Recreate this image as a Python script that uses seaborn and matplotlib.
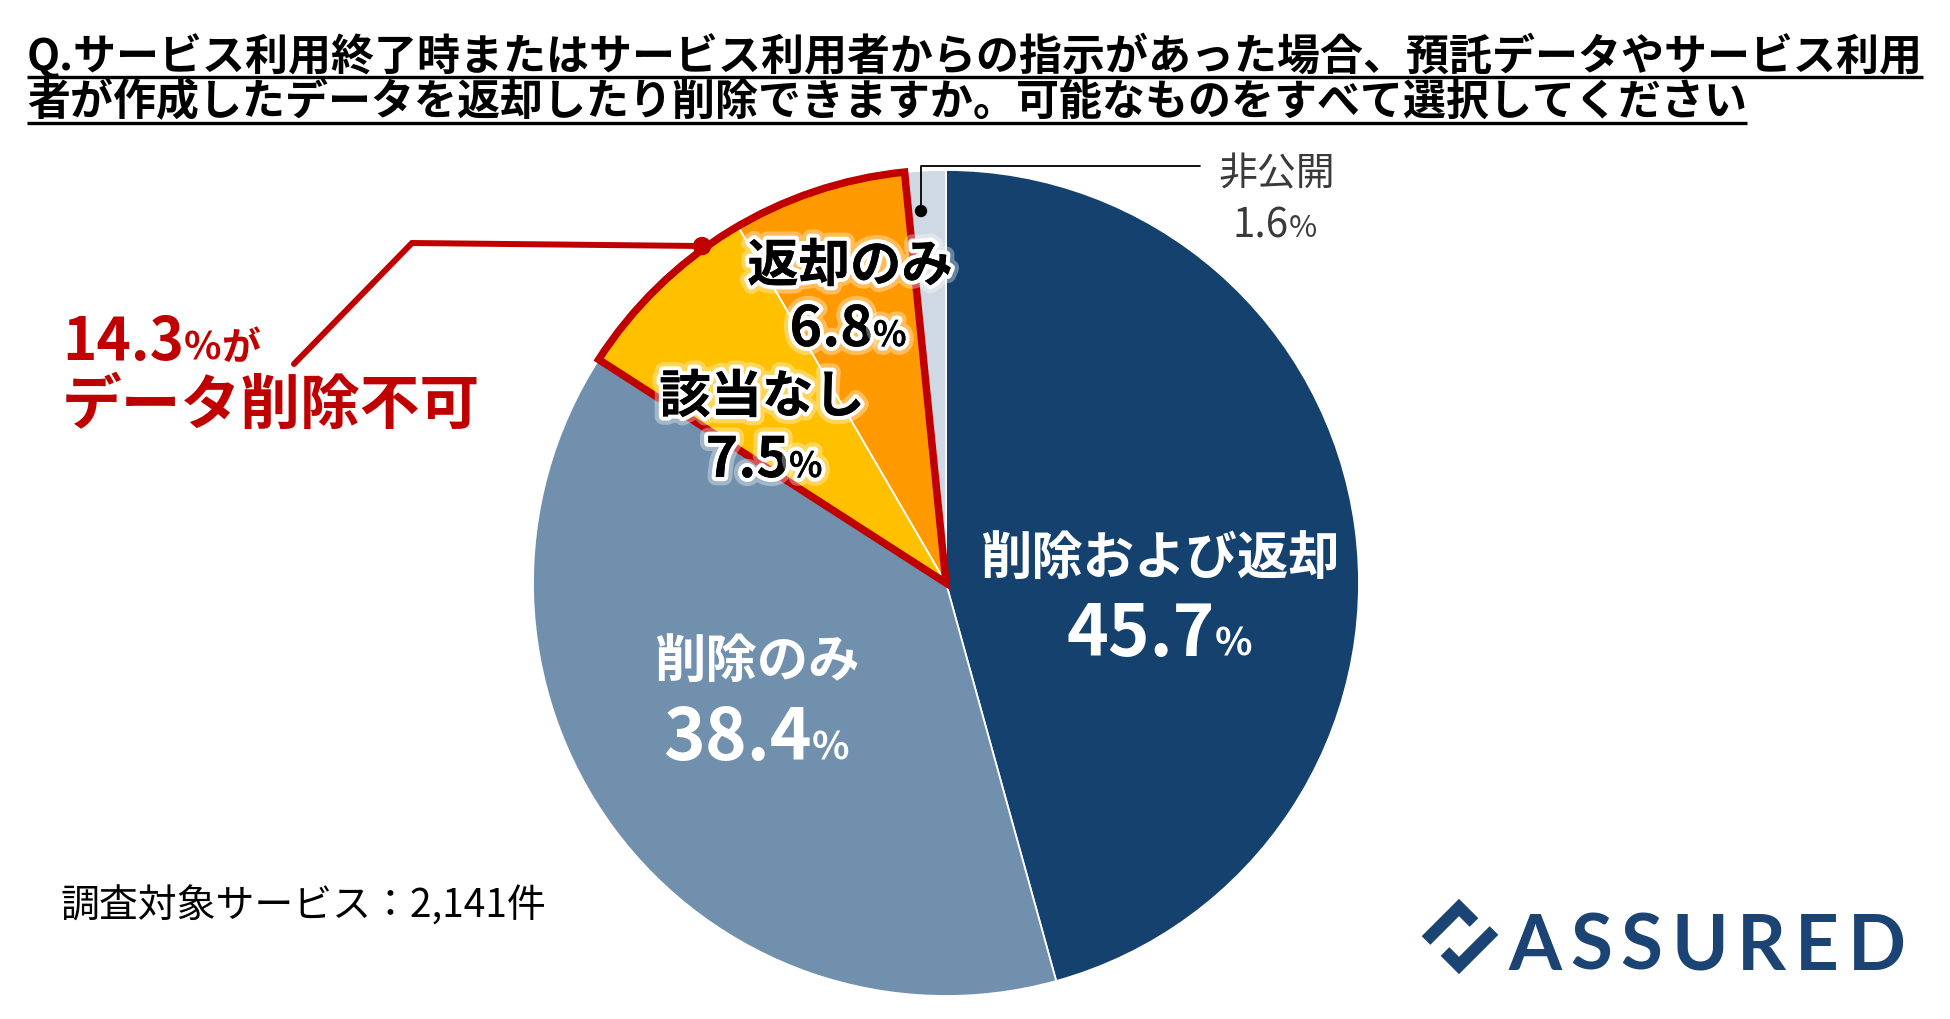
import matplotlib
matplotlib.use("Agg")
import matplotlib.pyplot as plt
import seaborn as sns
import numpy as np
from matplotlib.patches import Wedge, Circle
import matplotlib.patheffects as pe

# ---------------- data ----------------
categories = ["削除および返却", "削除のみ", "該当なし", "返却のみ", "非公開"]
values = [45.7, 38.4, 7.5, 6.8, 1.6]
colors = ["#15416f", "#7190ae", "#ffc000", "#ff9900", "#cfd9e3"]
highlight = ["該当なし", "返却のみ"]
highlight_total = 14.3
title_lines = [
    "Q.サービス利用終了時またはサービス利用者からの指示があった場合、預託データやサービス利用",
    "者が作成したデータを返却したり削除できますか。可能なものをすべて選択してください",
]
callout_line1 = ["%.1f" % highlight_total, "%", "が"]
callout_line2 = "データ削除不可"
footnote = "調査対象サービス：2,141件"
logo_text = "ASSURED"

# ---------------- setup ----------------
sns.set_theme(style="white")
plt.rcParams['font.family'] = ['Noto Sans CJK JP', 'DejaVu Sans']

W, H = 1950, 1020
fig = plt.figure(figsize=(19.5, 10.2), dpi=100)
fig.patch.set_facecolor("white")
ax = fig.add_axes([0, 0, 1, 1])
renderer = fig.canvas.get_renderer()

CX, CY, R = 946, H - 584, 413
wedges, _ = ax.pie(values, colors=colors, startangle=90, counterclock=False,
                   center=(CX, CY), radius=R, frame=True,
                   wedgeprops=dict(edgecolor="white", linewidth=1.3))
ax.set_xlim(0, W)
ax.set_ylim(0, H)
ax.set_aspect("auto")
ax.axis("off")

RED = "#c00000"
# highlight outline around combined wedges
hw = [wedges[categories.index(c)] for c in highlight]
t1 = min(w.theta1 for w in hw)
t2 = max(w.theta2 for w in hw)
ax.add_patch(Wedge((CX, CY), R, t1, t2, fill=False, edgecolor=RED,
                   linewidth=5.4, joinstyle="miter", zorder=5))

# callout leader
ang = np.deg2rad(125.9)
dx, dy = CX + (R + 3) * np.cos(ang), CY + (R + 3) * np.sin(ang)
ax.plot([dx, 412, 294], [dy, H - 244, H - 365], color=RED, lw=4.3,
        solid_joinstyle="miter", zorder=6)
ax.add_patch(Circle((dx, dy), 8.5, color=RED, zorder=7))


def mixed(x, y, parts, color, weight="bold", ha="center", effects=None, zorder=8):
    texts, widths = [], []
    for s, size in parts:
        t = ax.text(0, y, s, fontsize=size, color=color, fontweight=weight,
                    va="baseline", ha="left", zorder=zorder)
        if effects:
            t.set_path_effects(effects)
        widths.append(t.get_window_extent(renderer).width)
        texts.append(t)
    total = sum(widths)
    start = x - total / 2 if ha == "center" else x
    for t, w in zip(texts, widths):
        t.set_x(start)
        start += w


glow = [pe.withStroke(linewidth=12, foreground="white", alpha=0.35),
        pe.withStroke(linewidth=6, foreground="white"), pe.Normal()]

def fmt(v):
    return "%.1f" % v

lab = {c: v for c, v in zip(categories, values)}
# 削除および返却
ax.text(1160, H - 559, categories[0], fontsize=37, color="white", fontweight="bold",
        ha="center", va="center", zorder=8)
mixed(1159, H - 656, [(fmt(lab[categories[0]]), 51), ("%", 28)], "white")
# 削除のみ
ax.text(757, H - 661, categories[1], fontsize=37, color="white", fontweight="bold",
        ha="center", va="center", zorder=8)
mixed(756, H - 760, [(fmt(lab[categories[1]]), 51), ("%", 28)], "white")
# 該当なし
ax.text(762, H - 398, categories[2], fontsize=37, color="black", fontweight="bold",
        ha="center", va="center", zorder=8, path_effects=glow)
mixed(764, H - 478, [(fmt(lab[categories[2]]), 40), ("%", 25)], "black", effects=glow)
# 返却のみ
ax.text(850, H - 267, categories[3], fontsize=37, color="black", fontweight="bold",
        ha="center", va="center", zorder=8, path_effects=glow)
mixed(848, H - 347, [(fmt(lab[categories[3]]), 40), ("%", 25)], "black", effects=glow)
# 非公開
ax.text(1277, H - 174, categories[4], fontsize=28, color="#3a3a3a",
        ha="center", va="center", zorder=8)
mixed(1275, H - 237, [(fmt(lab[categories[4]]), 29), ("%", 22)], "#3a3a3a", weight="normal")
# leader for 非公開
ax.plot([921, 921, 1200], [H - 212, H - 167, H - 167], color="black", lw=1.3, zorder=9)
ax.add_patch(Circle((921, H - 212), 5.5, color="black", zorder=9))

# callout text
mixed(62, H - 360, [(callout_line1[0], 42), (callout_line1[1], 28), (callout_line1[2], 28)],
      RED, ha="left")
ax.text(62, H - 407, callout_line2, fontsize=43, color=RED, fontweight="bold",
        ha="left", va="center", zorder=8)

# title
target_w = 1892
t = ax.text(27, H - 56, title_lines[0], fontsize=31, fontweight="bold", color="black",
            ha="left", va="center")
w0 = t.get_window_extent(renderer).width
fs = 31 * target_w / w0
t.set_fontsize(fs)
ys = [56, 102]
uls = [78, 124]
for i, line in enumerate(title_lines):
    if i == 0:
        tt = t
    else:
        tt = ax.text(27, H - ys[i], line, fontsize=fs, fontweight="bold", color="black",
                     ha="left", va="center")
    bb = tt.get_window_extent(renderer)
    ax.plot([bb.x0, bb.x1], [H - uls[i], H - uls[i]], color="black", lw=2.4,
            solid_capstyle="butt")

# footnote
ax.text(60, H - 906, footnote, fontsize=28, color="black", ha="left", va="center")

# logo
NAVY = "#1b4373"
ax.plot([1426, 1459, 1474], [H - 941.5, H - 908.5, H - 923.5], color=NAVY, lw=8.8,
        solid_joinstyle="miter", solid_capstyle="butt")
ax.plot([1445, 1459, 1494], [H - 952.5, H - 966.5, H - 931.5], color=NAVY, lw=8.8,
        solid_joinstyle="miter", solid_capstyle="butt")
letters = []
lw_ = []
for ch in logo_text:
    tx = ax.text(0, H - 970, ch, fontsize=55, color=NAVY, family="Lato",
                 fontweight="bold", ha="left", va="baseline")
    letters.append(tx)
    lw_.append(tx.get_window_extent(renderer).width)
x0, x1 = 1508, 1906
gap = (x1 - x0 - sum(lw_)) / (len(lw_) - 1)
xx = x0
for tx, w in zip(letters, lw_):
    tx.set_x(xx)
    xx += w + gap

fig.savefig("out.png", dpi=100, facecolor="white")
